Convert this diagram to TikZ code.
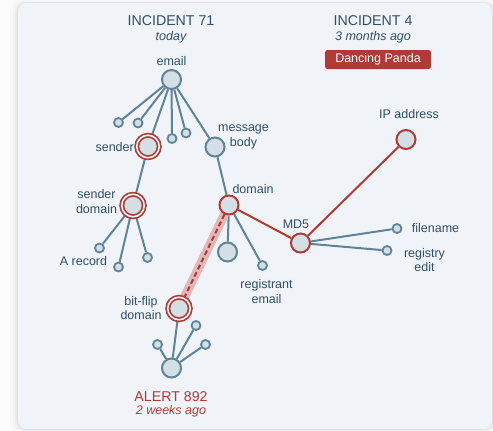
\documentclass[tikz,border=0pt]{standalone}
\usepackage{fontspec}
\setmainfont{Liberation Sans}
\definecolor{pagec}{HTML}{FCFCFD}
\definecolor{panelc}{HTML}{F0F4F8}
\definecolor{edgec}{HTML}{5F8399}
\definecolor{nodec}{HTML}{D4DEE5}
\definecolor{redc}{HTML}{B03A36}
\definecolor{textc}{HTML}{2E4F6A}
\definecolor{haloc}{HTML}{E1B8B9}
\pgfdeclarelayer{bgpanel}
\pgfdeclarelayer{edges}
\pgfsetlayers{bgpanel,edges,main}
\begin{document}
\begin{tikzpicture}[x=1pt,y=-1pt,
  every node/.style={inner sep=0pt},
  obj/.style={circle, draw=edgec, line width=2pt, fill=nodec},
  big/.style={obj, minimum size=19pt},
  small/.style={obj, minimum size=9pt, line width=1.8pt},
  hitone/.style={circle, draw=redc, line width=2pt, fill=nodec, minimum size=19pt},
  hittwo/.style={circle, draw=redc, line width=1.7pt, double=panelc,
    double distance=1.6pt, fill=nodec, minimum size=22.5pt},
  link/.style={draw=edgec, line width=2pt},
  redlink/.style={draw=redc, line width=2pt},
  lbl/.style={text=textc, font=\fontsize{12.5}{14.5}\selectfont, align=center},
  title/.style={text=textc, font=\fontsize{14.2}{16}\selectfont},
  when/.style={text=textc, font=\fontsize{12.5}{14}\selectfont\itshape},
]
\useasboundingbox (0,0) rectangle (493,431);

% page and panel
\begin{pgfonlayer}{bgpanel}
  \fill[pagec] (0,0) rectangle (493,431);
  \foreach \d/\o in {8/0.015,5/0.02,3/0.03,1.5/0.04}
    \fill[black, opacity=\o, rounded corners=10pt]
      (18-\d,3-\d*0.4) rectangle (492+\d,429+\d*0.6);
  \fill[panelc, rounded corners=8pt] (18,3) rectangle (492,429);
\end{pgfonlayer}

% headings
\node[title] (inc71) at (171,21) {INCIDENT 71};
\node[when]  (inc71t) at (171,37) {today};
\node[title] (inc4) at (373,21) {INCIDENT 4};
\node[when]  (inc4t) at (373,37) {3 months ago};
\node[fill=redc, rounded corners=2.5pt, minimum width=106pt, minimum height=19pt,
      text=white, font=\fontsize{12.5}{14}\selectfont] (panda) at (378,59.5) {Dancing Panda};

\node[text=redc, font=\fontsize{14.2}{16}\selectfont] (alert) at (171,397) {ALERT 892};
\node[when, text=redc] (alertt) at (171,411) {2 weeks ago};

% incident 71 nodes
\node[big] (email) at (171.5,79.5) {};
\node[small] (e1) at (118.5,122.5) {};
\node[small] (e2) at (138,123) {};
\node[small] (e3) at (172,138.5) {};
\node[small] (e4) at (186,133) {};
\node[hittwo] (sender) at (148,146.5) {};
\node[big] (body) at (215,147) {};
\node[hittwo] (sdom) at (133,205.5) {};
\node[small] (arec) at (99.5,248) {};
\node[small] (s2) at (118.5,267) {};
\node[small] (s3) at (147.5,257.5) {};
\node[hitone] (dom) at (229,205) {};
\node[big] (d1) at (227.5,252) {};
\node[small] (regm) at (262.5,265.5) {};

% incident 4 nodes
\node[hitone] (md5) at (300.5,243) {};
\node[hitone] (ip) at (406,139.5) {};
\node[small] (fname) at (397,228.5) {};
\node[small] (reg) at (387,250.5) {};

% alert nodes
\node[hittwo] (bfd) at (179,308.5) {};
\node[big] (al) at (171.5,368) {};
\node[small] (a1) at (157.5,344.5) {};
\node[small] (a2) at (196,325.5) {};
\node[small] (a3) at (205.5,344.5) {};

% labels
\node[lbl] (l-email) at (171.5,61) {email};
\node[lbl, anchor=east] (l-sender) at (134,147) {sender};
\node[lbl] (l-body) at (243.5,137) {message\\body};
\node[lbl] (l-sdom) at (96.5,201.5) {sender\\domain};
\node[lbl] (l-arec) at (83.5,261.5) {A record};
\node[lbl] (l-dom) at (253,189) {domain};
\node[lbl] (l-regm) at (266.5,291.5) {registrant\\email};
\node[lbl] (l-md5) at (296,224) {MD5};
\node[lbl] (l-ip) at (409,114.5) {IP address};
\node[lbl] (l-fname) at (435.5,228) {filename};
\node[lbl] (l-reg) at (424.5,260) {registry\\edit};
\node[lbl] (l-bfd) at (141,308) {bit-flip\\domain};

% connectors
\begin{pgfonlayer}{edges}
  \foreach \t in {e1,e2,sender,e3,e4,body}
    \draw[link] (email) -- (\t);
  \draw[link] (sender) -- (sdom);
  \draw[link] (body) -- (dom);
  \foreach \t in {arec,s2,s3}
    \draw[link] (sdom) -- (\t);
  \draw[link] (dom) -- (d1);
  \draw[link] (dom) -- (regm);
  \draw[redlink] (dom) -- (md5);
  \draw[redlink] (md5) -- (ip);
  \draw[link] (md5) -- (fname);
  \draw[link] (md5) -- (reg);
  \draw[haloc, line width=9pt] (dom.center) -- (bfd.center);
  \draw[redc, line width=2pt, dash pattern=on 5pt off 3pt] (dom) -- (bfd);
  \draw[link] (bfd) -- (al);
  \foreach \t in {a1,a2,a3}
    \draw[link] (al) -- (\t);
\end{pgfonlayer}
\end{tikzpicture}
\end{document}
